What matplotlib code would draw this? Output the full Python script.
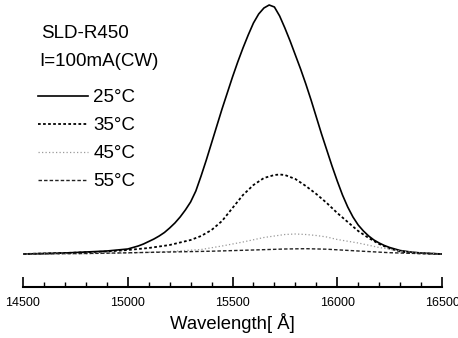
import matplotlib
matplotlib.use("Agg")
import matplotlib.pyplot as plt
from matplotlib.ticker import MultipleLocator
from matplotlib.transforms import ScaledTranslation

plt.rcParams['font.family'] = ['Liberation Sans', 'DejaVu Sans']

# ---------------- data (arbitrary units) ----------------
wl_25 = [14500, 14600, 14700, 14800, 14900, 14950,
         15000, 15025, 15050, 15075, 15100, 15125, 15150, 15175, 15200, 15225,
         15250, 15275, 15300, 15325, 15350, 15375, 15400, 15425, 15450, 15475,
         15500, 15525, 15550, 15575, 15600, 15625, 15650, 15675, 15700, 15725,
         15750, 15775, 15800, 15825, 15850, 15875, 15900, 15925, 15950, 15975,
         16000, 16025, 16050, 16075, 16100, 16125, 16150, 16175, 16200, 16225,
         16250, 16275, 16300, 16350, 16400, 16450, 16500]
int_25 = [0, 0.5, 1, 2, 3, 4,
          5, 6.5, 8, 10, 12.5, 15, 18, 21.5, 26, 31,
          37, 44, 52, 63, 78, 94, 111, 128, 145, 161,
          177, 192, 206, 219, 231, 240, 246, 249, 247, 238,
          226, 213, 199, 185, 170, 154, 137, 120, 104, 88,
          73, 59, 47, 37, 29, 23, 18, 14, 11, 8.5,
          6.5, 5, 3.5, 2, 1, 0.5, 0]

wl_35 = [14500, 14700, 14900, 15000, 15100, 15200, 15300, 15350, 15400, 15450,
         15500, 15550, 15600, 15650, 15700, 15725, 15750, 15800, 15850, 15900,
         15950, 16000, 16050, 16100, 16150, 16200, 16250, 16300, 16350, 16500]
int_35 = [0, 1, 2.5, 4, 6, 9, 14, 18, 24, 33,
          46, 59, 69, 76, 79, 79.5, 79, 75, 68, 60,
          51, 41, 32, 23, 16, 10, 5.5, 2.5, 1, 0]

wl_45 = [14500, 14800, 15000, 15200, 15350, 15450, 15550, 15650, 15750, 15800,
         15850, 15900, 15950, 16000, 16100, 16200, 16300, 16400, 16500]
int_45 = [0, 0.3, 1, 2.5, 4.5, 8, 12, 16.5, 19.5, 20,
          19.5, 18.5, 17, 14.5, 11, 6.5, 3, 1, 0]

wl_55 = [14500, 14800, 15000, 15200, 15400, 15600, 15750, 15850, 15950, 16100,
         16250, 16400, 16500]
int_55 = [0, 0.5, 1.2, 2, 2.8, 4, 5, 5.3, 4.8, 3, 1.3, 0.4, 0]

labels = ["25°C", "35°C", "45°C", "55°C"]

# ---------------- figure ----------------
fig = plt.figure(figsize=(4.58, 3.38), dpi=100)
ax = fig.add_axes([23 / 458, 1 - 287 / 338, 419 / 458, 287 / 338])

ax.plot(wl_25, int_25, color="black", lw=1.2, ls="-", label=labels[0])
ax.plot(wl_35, int_35, color="black", lw=1.3, ls=(0, (1.5, 1.3)), label=labels[1])
ax.plot(wl_45, int_45, color="#9a9a9a", lw=0.9, ls=(0, (1, 1.8)), label=labels[2])
ax.plot(wl_55, int_55, color="#222222", lw=1.0, ls=(0, (2.5, 1.5)), label=labels[3])

ax.set_xlim(14500, 16500)
ax.set_ylim(-33, 254)

for s in ["left", "right", "top"]:
    ax.spines[s].set_visible(False)
ax.spines["bottom"].set_linewidth(1.5)
ax.set_yticks([])

ax.xaxis.set_major_locator(MultipleLocator(500))
ax.xaxis.set_minor_locator(MultipleLocator(100))
ax.tick_params(axis="x", which="major", direction="in", length=7, width=1.2,
               labelsize=9, pad=7)
ax.tick_params(axis="x", which="minor", direction="in", length=3.5, width=1.0)
ax.set_xlabel("Wavelength[ Å]", fontsize=13.3, labelpad=3)

# keep the edge labels inside the canvas
fig.canvas.draw()
tl = ax.get_xticklabels()
tl[-1].set_transform(tl[-1].get_transform() + ScaledTranslation(-0.04, 0, fig.dpi_scale_trans))
tl[0].set_transform(tl[0].get_transform() + ScaledTranslation(0.01, 0, fig.dpi_scale_trans))

fig.text(41 / 458, 1 - 33 / 338, "SLD-R450", fontsize=13.5, va="center", ha="left")
fig.text(39 / 458, 1 - 61 / 338, "I=100mA(CW)", fontsize=13.5, va="center", ha="left")

ax.legend(loc="upper left", bbox_to_anchor=(38 / 458, 1 - 89 / 338),
          bbox_transform=fig.transFigure, frameon=False, fontsize=13.5,
          handlelength=2.65, handletextpad=0.3, labelspacing=0.58,
          borderpad=0, borderaxespad=0)

fig.savefig("out.png", dpi=100)
